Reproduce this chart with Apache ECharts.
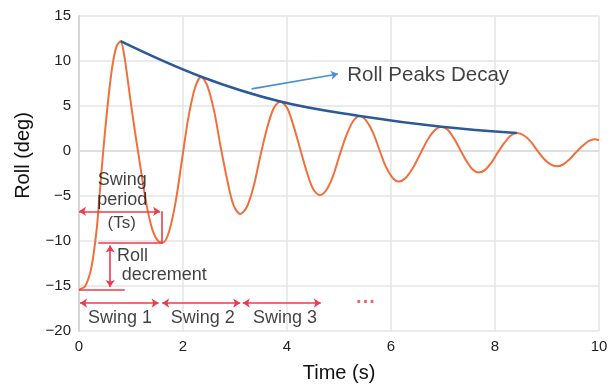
<!DOCTYPE html>
<html>
<head>
<meta charset="utf-8">
<script src="https://cdn.jsdelivr.net/npm/echarts@6/dist/echarts.min.js"></script>
<style>
  html, body { margin: 0; padding: 0; background: #fff; }
  #chart { width: 614px; height: 385px; }
</style>
</head>
<body>
<div id="chart"></div>
<script>
// Roll time history of a free-decay test (seconds, degrees)
const timeS = [
  0, 0.12, 0.24, 0.34, 0.40, 0.46, 0.53, 0.63, 0.72, 0.80,
  0.87, 0.94, 1.01, 1.08, 1.15, 1.23, 1.32, 1.42, 1.52, 1.61,
  1.73, 1.86, 1.98, 2.10, 2.23, 2.35,
  2.47, 2.60, 2.72, 2.85, 2.97, 3.10,
  3.23, 3.36, 3.48, 3.61, 3.74, 3.87,
  4.00, 4.12, 4.25, 4.38, 4.50, 4.63,
  4.76, 4.89, 5.01, 5.14, 5.27, 5.40,
  5.52, 5.65, 5.77, 5.89, 6.02, 6.14,
  6.28, 6.42, 6.56, 6.70, 6.84, 6.97,
  7.09, 7.21, 7.33, 7.45, 7.57, 7.69,
  7.81, 7.93, 8.05, 8.18, 8.30, 8.42,
  8.55, 8.68, 8.80, 8.93, 9.06, 9.19,
  9.31, 9.43, 9.55, 9.68, 9.80, 9.92, 10.0
];
const rollDeg = [
  -15.4, -15.0, -12.9, -8.7, -4.6, -0.4, 3.9, 9.0, 11.6, 12.2,
  10.6, 7.8, 4.8, 2.0, -0.6, -3.6, -6.6, -8.9, -10.0, -10.2,
  -9.0, -5.6, -1.0, 3.6, 7.0, 8.25,
  7.2, 4.4, 0.6, -3.2, -6.0, -7.0,
  -6.2, -3.9, -0.75, 2.4, 4.7, 5.5,
  4.8, 2.9, 0.3, -2.3, -4.2, -4.9,
  -4.3, -2.7, -0.5, 1.7, 3.3, 3.9,
  3.4, 2.1, 0.25, -1.6, -2.9, -3.4,
  -3.0, -1.9, -0.35, 1.2, 2.3, 2.7,
  2.35, 1.4, 0.15, -1.1, -2.05, -2.4,
  -2.1, -1.3, -0.2, 0.9, 1.7, 2.0,
  1.75, 1.1, 0.15, -0.8, -1.45, -1.7,
  -1.5, -0.95, -0.2, 0.55, 1.1, 1.3, 1.2
];

// Successive roll peaks joined by the decay envelope
const peakTimes = [0.80, 2.35, 3.87, 5.40, 6.97, 8.42];
const peakRoll  = [12.2, 8.25, 5.5, 3.9, 2.7, 2.0];

// Axis ticks
const xTicks = [0, 2, 4, 6, 8, 10];
const yTicks = [-20, -15, -10, -5, 0, 5, 10, 15];

// Annotation values
const startRoll = -15.4;           // initial heel
const firstTrough = [1.61, -10.2]; // end of the first swing
const periodLevel = -6.7;          // height of the swing period arrow
const swingLevel = -16.9;          // height of the swing arrows
const swingSpans = [[0.02, 1.53], [1.60, 3.10], [3.15, 4.65]];
const swingNames = ['Swing 1', 'Swing 2', 'Swing 3'];
const swingLabelT = [0.79, 2.38, 3.96];
const decayArrow = [[3.32, 6.9], [4.98, 8.55]];

const RED = '#ee3a4c';
const ORANGE = '#f0703c';
const NAVY = '#2b5a96';
const SKY = '#4b8fd2';
const FONT = '"Liberation Sans", Arial, sans-serif';

const minus = v => String(v).replace('-', '\u2212');

function seg(a, b, s0, s1, color, width) {
  return [
    { coord: a, symbol: s0, symbolSize: 7 },
    { coord: b, symbol: s1, symbolSize: 7,
      lineStyle: { color: color || RED, width: width || 1.6, type: 'solid' } }
  ];
}

const redLines = [
  // swing period
  seg([0, periodLevel], [firstTrough[0] - 0.05, periodLevel], 'arrow', 'arrow'),
  seg([firstTrough[0] - 0.02, periodLevel], [firstTrough[0] - 0.02, firstTrough[1]], 'none', 'none'),
  // roll decrement
  seg([0.37, firstTrough[1]], [firstTrough[0], firstTrough[1]], 'none', 'none'),
  seg([0, startRoll], [0.88, startRoll], 'none', 'none'),
  seg([0.6, firstTrough[1] - 0.3], [0.6, startRoll + 0.3], 'arrow', 'arrow')
];
swingSpans.forEach(s => redLines.push(seg([s[0], swingLevel], [s[1], swingLevel], 'arrow', 'arrow')));

const textItems = [
  { value: [0.83, -3.2], label: { formatter: 'Swing' } },
  { value: [0.83, -5.45], label: { formatter: 'period' } },
  { value: [0.82, -8.0], label: { formatter: '(Ts)', fontSize: 17 } },
  { value: [0.73, -11.7], label: { formatter: 'Roll', align: 'left' } },
  { value: [0.82, -13.8], label: { formatter: 'decrement', align: 'left' } },
  { value: [5.16, 8.44], label: { formatter: 'Roll Peaks Decay', align: 'left', fontSize: 20.5 } },
  { value: [5.52, -16.8], label: { formatter: '\u00b7\u00b7\u00b7', color: RED, fontSize: 20, fontWeight: 'bold' } }
];
swingNames.forEach((n, i) => textItems.push({ value: [swingLabelT[i], -18.6], label: { formatter: n } }));

const chart = echarts.init(document.getElementById('chart'), null, { renderer: 'canvas' });
chart.setOption({
  animation: false,
  backgroundColor: '#ffffff',
  grid: { left: 79, right: 15, top: 16, bottom: 54, containLabel: false, outerBoundsMode: 'none' },
  xAxis: {
    type: 'value', min: xTicks[0], max: xTicks[xTicks.length - 1], interval: 2,
    name: 'Time (s)', nameLocation: 'middle', nameGap: 32,
    nameTextStyle: { fontFamily: FONT, fontSize: 20, color: '#111' },
    axisLine: { show: true, lineStyle: { color: '#dcdcdc', width: 1.5 } },
    axisTick: { show: false },
    axisLabel: { fontFamily: FONT, fontSize: 15, color: '#222', margin: 8 },
    splitLine: { show: true, lineStyle: { color: '#e4e4e4', width: 1.5 } }
  },
  yAxis: {
    type: 'value', min: yTicks[0], max: yTicks[yTicks.length - 1], interval: 5,
    name: 'Roll (deg)', nameLocation: 'middle', nameGap: 46,
    nameTextStyle: { fontFamily: FONT, fontSize: 20, color: '#111', padding: [0, 0, 0, 36] },
    axisLine: { show: true, lineStyle: { color: '#d6d6d6', width: 2 } },
    axisTick: { show: false },
    axisLabel: { fontFamily: FONT, fontSize: 15, color: '#222', margin: 8, formatter: minus },
    splitLine: { show: true, lineStyle: { color: '#e4e4e4', width: 1.5 } }
  },
  series: [
    {
      name: 'Roll', type: 'line', smooth: 0.3, showSymbol: false,
      data: timeS.map((t, i) => [t, rollDeg[i]]),
      lineStyle: { color: ORANGE, width: 2 },
      z: 3,
      markLine: {
        silent: true, animation: false,
        label: { show: false },
        lineStyle: { color: RED, width: 1.6, type: 'solid' },
        data: redLines
      }
    },
    {
      name: 'Roll Peaks Decay', type: 'line', smooth: 0.4, showSymbol: false,
      data: peakTimes.map((t, i) => [t, peakRoll[i]]),
      lineStyle: { color: NAVY, width: 2.5 },
      z: 4,
      markLine: {
        silent: true, animation: false,
        label: { show: false },
        data: [seg(decayArrow[0], decayArrow[1], 'none', 'arrow', SKY, 1.6)]
      }
    },
    {
      name: 'notes', type: 'scatter', symbolSize: 0, silent: true, z: 6,
      data: textItems,
      label: {
        show: true, position: 'inside', fontFamily: FONT, fontSize: 18, color: '#111'
      }
    }
  ]
});
</script>
</body>
</html>
